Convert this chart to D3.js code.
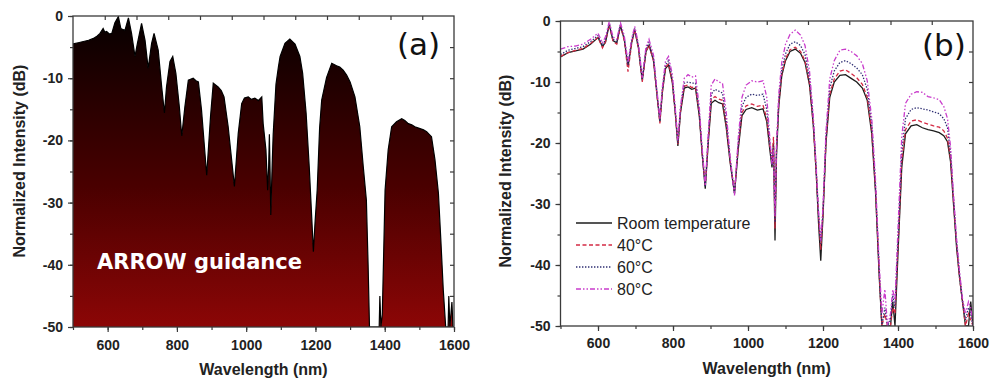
<!DOCTYPE html>
<html>
<head>
<meta charset="utf-8">
<script src="https://cdn.jsdelivr.net/npm/d3@7"></script>
<style>
  body { margin: 0; background: #fff; }
  svg text { font-family: "Liberation Sans", Arial, sans-serif; }
</style>
</head>
<body>
<div id="container"></div>
<script>
// ---- panel (a): measured spectrum, wavelength (nm) / level (dB)
const waveA = [500, 515, 530, 545, 559, 570, 578, 587, 592, 597,
    605, 612, 621, 631, 638, 645, 650, 660, 669, 679,
    686, 698, 708, 717, 727, 734, 746, 756, 764, 770,
    780, 788, 797, 807, 814, 823, 833, 847, 855, 862,
    871, 886, 897, 905, 919, 928, 936, 948, 966, 977,
    987, 995, 1006, 1015, 1025, 1035, 1045, 1049, 1057, 1062,
    1065, 1067, 1069, 1071, 1075, 1078, 1086, 1093, 1098, 1112,
    1126, 1141, 1155, 1163, 1173, 1182, 1188, 1194, 1199, 1205,
    1212, 1218, 1232, 1247, 1261, 1270, 1280, 1290, 1300, 1314,
    1328, 1338, 1347, 1352, 1356, 1384, 1386, 1389, 1393, 1401,
    1410, 1420, 1434, 1449, 1458, 1468, 1478, 1487, 1502, 1512,
    1521, 1535, 1545, 1555, 1562, 1569, 1576, 1583, 1585, 1588,
    1594, 1597, 1600];
const levelA = [-4.5, -4.3, -4.1, -3.9, -3.6, -3.2, -2.8, -2.0, -2.6, -2.5,
    -2.9, -2.8, -1.1, -0.1, -2.0, -2.2, -2.3, -0.3, -2.8, -6.5,
    -4.4, -1.2, -3.9, -8.4, -4.4, -2.8, -5.5, -11.4, -15.6, -11.4,
    -7.3, -6.5, -9.2, -14.6, -19.3, -14.6, -10.3, -10.0, -10.4, -10.6,
    -15.1, -25.6, -16.2, -10.8, -11.4, -12.0, -13.0, -17.8, -27.4, -18.9,
    -14.1, -13.2, -13.0, -13.4, -13.2, -13.6, -13.0, -17.3, -21.5, -28.0,
    -24.0, -19.0, -25.0, -32.0, -24.0, -19.0, -11.0, -8.2, -6.5, -4.4,
    -3.7, -4.5, -6.5, -9.2, -15.6, -24.2, -31.0, -37.9, -33.0, -28.0,
    -18.0, -13.5, -9.9, -7.6, -8.0, -8.2, -8.7, -9.5, -10.6, -13.0,
    -17.8, -24.2, -29.6, -40.0, -50, -50, -45, -50, -48, -28.0,
    -21.5, -17.8, -17.0, -16.5, -16.8, -17.3, -17.5, -17.8, -18.1, -18.3,
    -18.6, -19.4, -23.1, -28.5, -36.0, -44.0, -50, -50, -45, -50,
    -46, -50, -50];

// ---- panel (b): four temperatures on one wavelength grid
const waveB = [500, 520, 540, 560, 580, 600, 612, 620, 630, 640,
    650, 660, 670, 680, 690, 698, 708, 718, 728, 736,
    748, 758, 765, 772, 780, 788, 798, 806, 813, 820,
    830, 840, 850, 860, 870, 878, 886, 894, 902, 912,
    922, 932, 942, 952, 964, 974, 984, 995, 1010, 1025,
    1040, 1050, 1058, 1064, 1068, 1072, 1076, 1082, 1090, 1100,
    1112, 1126, 1140, 1152, 1164, 1174, 1182, 1188, 1194, 1200,
    1208, 1218, 1230, 1245, 1260, 1275, 1290, 1305, 1318, 1330,
    1340, 1350, 1357, 1365, 1372, 1380, 1386, 1392, 1400, 1410,
    1420, 1435, 1450, 1465, 1480, 1495, 1510, 1522, 1532, 1540,
    1548, 1556, 1564, 1572, 1580, 1588, 1594, 1600];
const roomTemp = [-5.9, -5.2, -4.9, -4.6, -3.8, -2.7, -4.2, -3.5, -0.6, -3.2,
    -3.6, -0.8, -3.0, -7.5, -3.5, -1.4, -4.5, -9.8, -5.0, -4.0,
    -6.5, -12.5, -16.5, -11.5, -7.8, -7.2, -10.0, -15.0, -20.5, -15.0,
    -11.0, -10.8, -11.2, -11.0, -15.5, -22.0, -27.5, -20.0, -13.5, -13.0,
    -13.4, -13.6, -17.5, -23.0, -28.3, -21.0, -15.5, -14.5, -14.2, -14.6,
    -14.4, -16.5, -21.0, -24.0, -20.0, -36.0, -22.0, -14.0, -9.0, -6.5,
    -5.0, -4.6, -5.3, -6.8, -10.5, -17.0, -25.0, -33.0, -39.3, -32.0,
    -20.0, -12.5, -10.0, -8.9, -8.8, -9.4, -10.0, -11.0, -13.0, -18.5,
    -28.0, -42.0, -50, -50, -50, -50, -46, -50, -38.0, -24.0,
    -18.5, -17.2, -17.0, -17.5, -17.8, -18.0, -18.3, -18.8, -19.8, -23.0,
    -30.0, -37.0, -42.0, -46.0, -50, -50, -46, -50];
const temp40 = [-5.8, -5.2, -4.8, -4.5, -3.7, -2.7, -4.4, -3.4, -0.6, -3.3,
    -3.8, -0.8, -3.2, -8.3, -3.6, -1.4, -4.6, -10.0, -5.0, -3.9,
    -6.5, -12.6, -16.8, -11.4, -7.6, -7.0, -9.8, -15.0, -20.2, -14.8,
    -10.7, -10.5, -10.9, -10.8, -15.2, -21.8, -27.0, -19.6, -12.8, -12.4,
    -12.8, -13.0, -17.0, -22.8, -28.0, -20.5, -15.0, -13.9, -13.6, -14.0,
    -13.8, -16.0, -20.5, -23.0, -19.0, -34.0, -21.0, -13.5, -8.7, -6.2,
    -4.7, -4.3, -5.0, -6.5, -10.2, -16.8, -25.0, -32.0, -37.5, -31.5,
    -19.5, -12.0, -9.5, -8.2, -8.0, -8.6, -9.3, -10.4, -12.5, -18.0,
    -27.5, -41.5, -50, -48, -50, -50, -47, -48, -37.0, -23.0,
    -17.8, -16.4, -16.2, -16.6, -16.9, -17.2, -17.4, -18.0, -19.2, -22.5,
    -29.5, -36.5, -42.0, -46.0, -50, -48, -49, -50];
const temp60 = [-5.5, -4.8, -4.5, -4.2, -3.4, -2.4, -4.0, -3.1, -0.4, -3.0,
    -3.4, -0.6, -2.8, -7.2, -3.2, -1.2, -4.2, -9.6, -4.6, -3.5,
    -6.1, -12.2, -16.4, -11.0, -7.2, -6.5, -9.3, -14.6, -20.0, -14.4,
    -10.2, -10.0, -10.2, -10.2, -14.8, -21.5, -27.2, -19.2, -12.0, -11.2,
    -11.5, -11.8, -16.2, -22.5, -28.2, -20.0, -14.0, -12.5, -12.0, -12.2,
    -12.0, -14.5, -19.8, -23.5, -20.5, -33.0, -21.0, -13.0, -8.0, -5.4,
    -3.8, -3.4, -4.0, -5.5, -9.4, -16.2, -24.5, -31.5, -36.5, -31.0,
    -19.0, -11.0, -8.2, -6.8, -6.5, -7.0, -7.7, -8.8, -11.2, -17.0,
    -27.0, -41.0, -50, -47, -50, -49, -45, -47, -36.0, -21.5,
    -16.0, -14.5, -14.2, -14.4, -14.6, -14.9, -15.2, -16.0, -17.5, -21.5,
    -29.0, -36.0, -41.5, -46.0, -49, -47, -48, -50];
const temp80 = [-4.6, -4.2, -4.1, -3.8, -3.0, -2.0, -3.6, -2.6, -0.1, -2.6,
    -3.0, -0.3, -2.4, -6.8, -2.8, -0.9, -3.8, -9.3, -4.2, -3.0,
    -5.6, -11.8, -16.0, -10.6, -6.6, -5.8, -8.7, -14.2, -19.6, -14.0,
    -9.4, -8.8, -9.2, -9.0, -14.0, -21.0, -27.0, -18.5, -10.5, -9.5,
    -10.0, -10.2, -15.0, -22.0, -28.6, -19.2, -12.5, -10.5, -9.8, -10.0,
    -9.8, -12.5, -19.0, -23.5, -21.0, -32.0, -20.5, -12.0, -6.8, -3.8,
    -2.2, -1.5, -2.3, -4.0, -8.2, -15.5, -24.0, -31.0, -36.0, -30.5,
    -18.0, -9.5, -6.5, -4.8, -4.6, -5.0, -5.7, -7.0, -9.8, -16.0,
    -26.0, -40.0, -48, -44, -50, -48, -44, -46, -34.0, -19.0,
    -13.5, -12.0, -11.6, -11.7, -12.4, -12.6, -12.9, -14.0, -16.0, -20.5,
    -28.5, -35.5, -41.0, -45.5, -48, -46, -47, -50];
const legendNames = ["Room temperature", "40°C", "60°C", "80°C"];

const xTickLabels = [600, 800, 1000, 1200, 1400, 1600];
const yTickLabels = [0, -10, -20, -30, -40, -50];

const w = 990;
const h = 381;

const svg = d3.select('#container').append('svg')
    .attr('width', w)
    .attr('height', h)
    .style('display', 'block');

const defs = svg.append('defs');

const boxA = {left: 73, right: 454, top: 16, bottom: 327, topParts: 12, pad: 8};
const boxB = {left: 560.5, right: 973, top: 21, bottom: 326, topParts: 10, pad: 7};

// plain hyphen and no thousands separator, like the original
const plain = (d) => String(d);

const makeScales = (box) => {
    const x = d3.scaleLinear().domain([500, 1600]).range([box.left, box.right]);
    const y = d3.scaleLinear().domain([-50, 0]).range([box.bottom, box.top]);
    return {x, y};
};

const styleAxis = (g) => {
    g.select('.domain').remove();
    g.selectAll('line').attr('stroke', '#3a3a3a').attr('stroke-width', 1.2);
    g.selectAll('text')
        .attr('fill', '#222')
        .style('font-size', '14px')
        .style('font-weight', 'bold');
};

const drawAxes = (box, x, y) => {
    const minorX = d3.range(500, 1601, 100);
    const minorY = d3.range(-50, 1, 5);

    // bottom
    svg.append('g').attr('transform', `translate(0,${box.bottom})`)
        .call(d3.axisBottom(x).tickValues(minorX).tickSize(3).tickFormat(''))
        .call(styleAxis);
    svg.append('g').attr('transform', `translate(0,${box.bottom})`)
        .call(d3.axisBottom(x).tickValues(xTickLabels).tickSize(5).tickPadding(box.pad).tickFormat(plain))
        .call(styleAxis);

    // left
    svg.append('g').attr('transform', `translate(${box.left},0)`)
        .call(d3.axisLeft(y).tickValues(minorY).tickSize(3).tickFormat(''))
        .call(styleAxis);
    svg.append('g').attr('transform', `translate(${box.left},0)`)
        .call(d3.axisLeft(y).tickValues(yTickLabels).tickSize(5).tickPadding(5).tickFormat(plain))
        .call(styleAxis);

    // top: evenly split, no labels
    const topScale = d3.scaleLinear().domain([0, box.topParts]).range([box.left, box.right]);
    svg.append('g').attr('transform', `translate(0,${box.top})`)
        .call(d3.axisTop(topScale).tickValues(d3.range(1, box.topParts)).tickSize(-4).tickFormat(''))
        .call(styleAxis);

    // right
    svg.append('g').attr('transform', `translate(${box.right},0)`)
        .call(d3.axisRight(y).tickValues(minorY.slice(1, -1)).tickSize(-4).tickFormat(''))
        .call(styleAxis);

    svg.append('rect')
        .attr('x', box.left)
        .attr('y', box.top)
        .attr('width', box.right - box.left)
        .attr('height', box.bottom - box.top)
        .attr('fill', 'none')
        .attr('stroke', '#3a3a3a')
        .attr('stroke-width', 1.3);
};

const axisTitles = (box, cx, cy) => {
    svg.append('text')
        .attr('transform', `translate(${cx},${cy}) rotate(-90)`)
        .attr('text-anchor', 'middle')
        .style('font-size', '16px')
        .style('font-weight', 'bold')
        .attr('fill', '#222')
        .text('Normalized Intensity (dB)');
    svg.append('text')
        .attr('x', (box.left + box.right) / 2)
        .attr('y', box.bottom + 48)
        .attr('text-anchor', 'middle')
        .style('font-size', '16px')
        .style('font-weight', 'bold')
        .attr('fill', '#222')
        .text('Wavelength (nm)');
};

const clipFor = (id, box) => {
    defs.append('clipPath').attr('id', id)
        .append('rect')
        .attr('x', box.left).attr('y', box.top)
        .attr('width', box.right - box.left)
        .attr('height', box.bottom - box.top);
};

// ---------- panel (a)
const sa = makeScales(boxA);
clipFor('clipA', boxA);
clipFor('clipB', boxB);

const grad = defs.append('linearGradient')
    .attr('id', 'redFade')
    .attr('gradientUnits', 'userSpaceOnUse')
    .attr('x1', 0).attr('x2', 0)
    .attr('y1', boxA.top).attr('y2', boxA.bottom);
grad.append('stop').attr('offset', '0%').attr('stop-color', '#060000');
grad.append('stop').attr('offset', '55%').attr('stop-color', '#4a0000');
grad.append('stop').attr('offset', '100%').attr('stop-color', '#8c0606');

const pointsA = waveA.map((wl, i) => ({wl, db: levelA[i]}));

const areaA = d3.area()
    .x((d) => sa.x(d.wl))
    .y0(sa.y(-50))
    .y1((d) => sa.y(d.db));

const plotA = svg.append('g').attr('clip-path', 'url(#clipA)');
plotA.append('path')
    .datum(pointsA)
    .attr('d', areaA)
    .attr('fill', 'url(#redFade)');
plotA.append('path')
    .datum(pointsA)
    .attr('d', d3.line().x((d) => sa.x(d.wl)).y((d) => sa.y(d.db)))
    .attr('fill', 'none')
    .attr('stroke', '#000')
    .attr('stroke-width', 1.2);

svg.append('text')
    .attr('x', 97)
    .attr('y', 269)
    .attr('fill', '#fff')
    .style('font-family', '"DejaVu Sans", sans-serif')
    .style('font-weight', 'bold')
    .style('font-size', '21px')
    .text('ARROW guidance');

svg.append('text')
    .attr('x', 397)
    .attr('y', 55)
    .attr('fill', '#111')
    .style('font-family', '"DejaVu Sans", sans-serif')
    .style('font-size', '31px')
    .text('(a)');

drawAxes(boxA, sa.x, sa.y);
axisTitles(boxA, 25, 161);

// ---------- panel (b)
const sb = makeScales(boxB);

const seriesB = [
    {name: legendNames[0], values: roomTemp, color: '#1c1c1c', dash: null},
    {name: legendNames[1], values: temp40, color: '#d42a44', dash: '4,2.5'},
    {name: legendNames[2], values: temp60, color: '#2e2e72', dash: '1.4,1.6'},
    {name: legendNames[3], values: temp80, color: '#c93ccb', dash: '5,2,1.5,2,1.5,2'}
];

const lineB = d3.line()
    .x((d) => sb.x(d[0]))
    .y((d) => sb.y(d[1]));

const plotB = svg.append('g').attr('clip-path', 'url(#clipB)');
plotB.selectAll('.series')
    .data(seriesB)
    .enter()
    .append('path')
    .attr('class', 'series')
    .attr('d', (s) => lineB(waveB.map((wl, i) => [wl, s.values[i]])))
    .attr('fill', 'none')
    .attr('stroke', (s) => s.color)
    .attr('stroke-width', 1.3)
    .attr('stroke-dasharray', (s) => s.dash);

const legend = svg.append('g').attr('transform', 'translate(576,223)');
const rows = legend.selectAll('.row')
    .data(seriesB)
    .enter()
    .append('g')
    .attr('class', 'row')
    .attr('transform', (s, i) => `translate(0,${i * 22})`);
rows.append('line')
    .attr('x1', 0).attr('x2', 36)
    .attr('stroke', (s) => s.color)
    .attr('stroke-width', 1.4)
    .attr('stroke-dasharray', (s) => s.dash);
rows.append('text')
    .attr('x', 41)
    .attr('dy', '0.36em')
    .attr('fill', '#222')
    .style('font-size', '16px')
    .text((s) => s.name);

svg.append('text')
    .attr('x', 922)
    .attr('y', 56)
    .attr('fill', '#111')
    .style('font-family', '"DejaVu Sans", sans-serif')
    .style('font-size', '31px')
    .text('(b)');

drawAxes(boxB, sb.x, sb.y);
axisTitles(boxB, 511, 171);
</script>
</body>
</html>
